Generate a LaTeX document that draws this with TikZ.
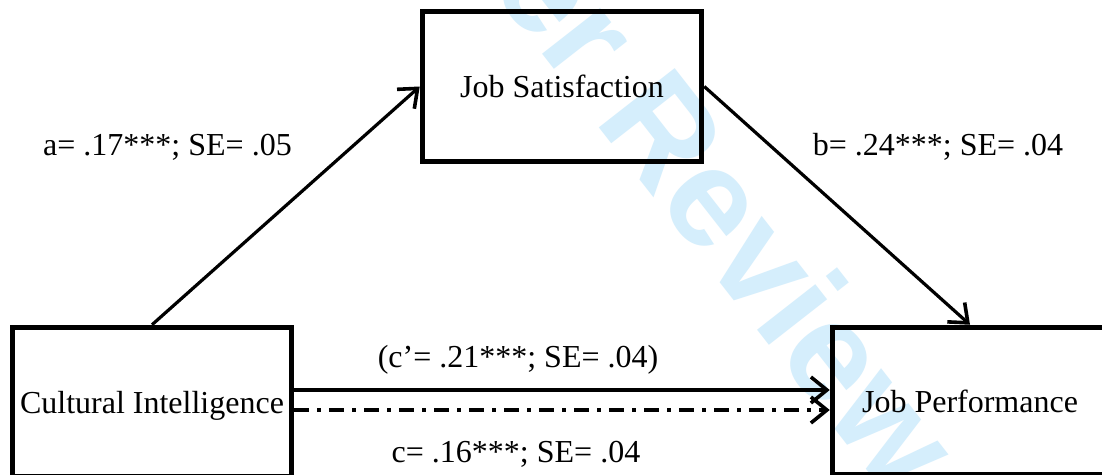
\documentclass[tikz,border=0pt]{standalone}
\usepackage{fontspec}
\setmainfont{Liberation Serif}
\newfontfamily\wmfont{Liberation Sans}
\usetikzlibrary{arrows.meta}
\definecolor{wmblue}{RGB}{213,238,252}
\begin{document}
\begin{tikzpicture}[x=1pt,y=-1pt,
  box/.style={draw=black,line width=5.5pt,rectangle,inner sep=0pt,text height=22pt,text depth=0pt,
    font=\fontsize{32}{38}\selectfont},
  lbl/.style={inner sep=0pt,anchor=base,font=\fontsize{32}{38}\selectfont},
  conn/.style={line width=3.2pt,-{Straight Barb[length=16pt,width=26pt,line width=3.6pt]}},
  dashdot/.style={dash pattern=on 15pt off 8pt on 4pt off 8pt}]
\useasboundingbox (0,0) rectangle (1102,474);
\clip (0,0) rectangle (1102,474);
\fill[white] (0,0) rectangle (1102,474);
% watermark
\node[anchor=base west,rotate=-52,inner sep=0pt,text=wmblue,font=\wmfont\bfseries\fontsize{140}{150}\selectfont] (wm) at (220,-358) {For Peer Review};
% boxes
\node[box,minimum width=279pt,minimum height=149pt] (CI) at (152,402) {Cultural Intelligence};
\node[box,minimum width=279pt,minimum height=150pt] (JS) at (562,86.5) {Job Satisfaction};
\node[box,minimum width=275pt,minimum height=147pt] (JP) at (970,401) {Job Performance};
% connectors
\draw[conn] (CI.north) -- (JS.west);
\draw[conn] (JS.east) -- (JP.north);
\draw[conn] ([yshift=12pt]CI.east) -- ([yshift=12pt]CI.east -| JP.west);
\draw[conn,dashdot] ([yshift=-8pt]CI.east) -- ([yshift=-8pt]CI.east -| JP.west);
% labels
\node[lbl] (la) at (167.5,155) {a= .17***; SE= .05};
\node[lbl] (lb) at (938,155) {b= .24***; SE= .04};
\node[lbl] (lcp) at (518,367) {(c’= .21***; SE= .04)};
\node[lbl] (lc) at (516,462) {c= .16***; SE= .04};
\end{tikzpicture}
\end{document}
